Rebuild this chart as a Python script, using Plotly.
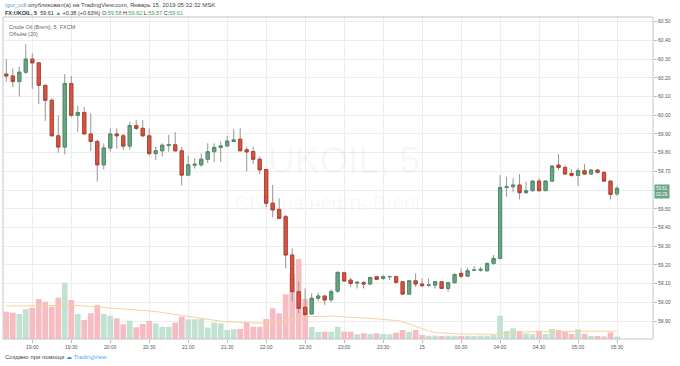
import plotly.graph_objects as go
import pandas as pd

# ---------------- data ----------------
times = (list(pd.date_range("2019-01-14 18:40", "2019-01-15 00:55", freq="5min").strftime("%H:%M"))
         + list(pd.date_range("2019-01-15 04:00", "2019-01-15 05:30", freq="5min").strftime("%H:%M")))

open_ = [60.22, 60.21, 60.18, 60.23, 60.30, 60.28, 60.16, 60.08, 59.89, 59.83,
         60.17, 60.00, 60.015, 59.90, 59.86, 59.735, 59.825, 59.90, 59.89, 59.835,
         59.945, 59.93, 59.89, 59.795, 59.81, 59.838, 59.842, 59.81, 59.68, 59.733,
         59.735, 59.765, 59.805, 59.828, 59.836, 59.86, 59.872, 59.815, 59.806, 59.765,
         59.71, 59.53, 59.497, 59.458, 59.253, 59.057, 58.974, 58.938, 59.022, 59.034,
         59.014, 59.06, 59.158, 59.119, 59.103, 59.105, 59.098, 59.137, 59.128, 59.137,
         59.137, 59.11, 59.044, 59.115, 59.098, 59.092, 59.092, 59.11, 59.074, 59.105,
         59.155, 59.14, 59.171, 59.172, 59.169, 59.208, 59.235, 59.614, 59.618, 59.627,
         59.586, 59.597, 59.648, 59.597, 59.648, 59.734, 59.721, 59.689, 59.679, 59.704,
         59.686, 59.707, 59.695, 59.648, 59.58]
high = [60.30, 60.25, 60.26, 60.38, 60.33, 60.28, 60.16, 60.09, 60.00, 60.22,
        60.21, 60.05, 60.045, 60.01, 59.87, 59.85, 59.93, 59.93, 59.90, 59.965,
        59.975, 59.975, 59.93, 59.83, 59.85, 59.895, 59.91, 59.83, 59.785, 59.77,
        59.795, 59.85, 59.85, 59.86, 59.89, 59.925, 59.93, 59.832, 59.832, 59.78,
        59.71, 59.628, 59.556, 59.467, 59.289, 59.111, 59.075, 59.048, 59.052, 59.034,
        59.07, 59.167, 59.164, 59.131, 59.114, 59.114, 59.137, 59.14, 59.146, 59.142,
        59.142, 59.114, 59.119, 59.155, 59.128, 59.128, 59.114, 59.114, 59.11, 59.155,
        59.181, 59.185, 59.194, 59.19, 59.212, 59.253, 59.68, 59.671, 59.663, 59.686,
        59.645, 59.654, 59.663, 59.654, 59.734, 59.793, 59.734, 59.711, 59.716, 59.739,
        59.711, 59.711, 59.698, 59.65, 59.62]
low = [60.18, 60.15, 60.10, 60.22, 60.14, 60.06, 59.97, 59.89, 59.80, 59.79,
       59.99, 59.91, 59.90, 59.81, 59.645, 59.71, 59.805, 59.82, 59.815, 59.815,
       59.92, 59.885, 59.785, 59.76, 59.78, 59.805, 59.805, 59.625, 59.68, 59.715,
       59.725, 59.745, 59.75, 59.75, 59.83, 59.858, 59.81, 59.70, 59.74, 59.686,
       59.508, 59.455, 59.449, 59.182, 59.004, 58.941, 58.924, 58.933, 59.004, 58.986,
       59.00, 59.05, 59.11, 59.083, 59.074, 59.074, 59.092, 59.119, 59.119, 59.119,
       59.101, 59.039, 59.044, 59.083, 59.083, 59.083, 59.074, 59.071, 59.057, 59.101,
       59.131, 59.137, 59.167, 59.164, 59.165, 59.199, 59.23, 59.565, 59.591, 59.55,
       59.582, 59.591, 59.591, 59.595, 59.645, 59.707, 59.68, 59.671, 59.622, 59.68,
       59.684, 59.689, 59.645, 59.55, 59.57]
close = [60.21, 60.18, 60.23, 60.30, 60.28, 60.16, 60.08, 59.89, 59.83, 60.17,
         60.00, 60.015, 59.90, 59.86, 59.735, 59.825, 59.90, 59.89, 59.835, 59.945,
         59.93, 59.89, 59.795, 59.81, 59.84, 59.842, 59.81, 59.68, 59.735, 59.738,
         59.765, 59.805, 59.828, 59.836, 59.862, 59.868, 59.81, 59.804, 59.765, 59.708,
         59.53, 59.494, 59.449, 59.253, 59.057, 58.968, 58.935, 59.022, 59.034, 59.013,
         59.057, 59.16, 59.114, 59.101, 59.107, 59.098, 59.133, 59.123, 59.137, 59.138,
         59.107, 59.044, 59.115, 59.098, 59.089, 59.093, 59.11, 59.074, 59.105, 59.149,
         59.14, 59.169, 59.172, 59.176, 59.208, 59.235, 59.614, 59.618, 59.627, 59.586,
         59.597, 59.648, 59.597, 59.648, 59.728, 59.721, 59.686, 59.679, 59.704, 59.686,
         59.707, 59.695, 59.648, 59.577, 59.61]
volume = [273, 263, 250, 300, 313, 400, 373, 323, 413, 563,
          390, 250, 190, 257, 340, 250, 233, 207, 147, 183,
          117, 150, 180, 157, 123, 123, 163, 223, 197, 197,
          200, 113, 163, 157, 90, 97, 100, 163, 123, 123,
          200, 307, 257, 447, 650, 800, 400, 120, 70, 73,
          73, 123, 73, 73, 47, 57, 50, 57, 50, 47,
          63, 90, 73, 90, 40, 33, 33, 30, 33, 33,
          30, 33, 30, 33, 33, 40, 233, 80, 107, 80,
          57, 47, 83, 50, 100, 90, 73, 50, 97, 53,
          30, 30, 25, 67, 25]
volume_ma = [330, 330, 330, 330, 330, 330, 330, 335, 335, 340,
             340, 335, 330, 325, 320, 317, 315, 310, 305, 300,
             295, 290, 283, 275, 265, 255, 245, 235, 225, 215,
             205, 195, 185, 178, 173, 170, 165, 160, 157, 158,
             162, 167, 175, 183, 195, 210, 223, 225, 227, 230,
             228, 225, 223, 220, 215, 210, 207, 203, 200, 195,
             185, 173, 150, 125, 100, 80, 65, 60, 55, 52,
             50, 50, 48, 47, 47, 47, 57, 62, 68, 70,
             72, 73, 73, 74, 75, 76, 77, 78, 79, 80,
             80, 80, 80, 80, 80]

tick_vals = ["19:00", "19:30", "20:00", "20:30", "21:00", "21:30", "22:00", "22:30",
             "23:00", "23:30", "00:00", "00:30", "04:00", "04:30", "05:00", "05:30"]
tick_text = ["19:00", "19:30", "20:00", "20:30", "21:00", "21:30", "22:00", "22:30",
             "23:00", "23:30", "15", "00:30", "04:00", "04:30", "05:00", "05:30"]
price_ticks = [58.9, 59.0, 59.1, 59.2, 59.3, 59.4, 59.5, 59.6, 59.7, 59.8, 59.9,
               60.0, 60.1, 60.2, 60.3, 60.4, 60.5]
last_price = "59.61"
countdown = "02:29"

# ---------------- geometry (pixels of the 680x366 page) ----------------
W, H = 680, 366
PX0, PX1 = 3, 653      # plot left / right
PY0, PY1 = 17, 339     # plot top / bottom
PPU = 187.1            # pixels per 1.00 of price
P_REF_Y, P_REF = 21.7, 60.50


def fx(x):
    return x / W


def fy(y):
    return 1 - y / H


y_top = P_REF - (PY0 - P_REF_Y) / PPU
y_bot = P_REF - (PY1 - P_REF_Y) / PPU
slot = 6.497
x_first = 6.3
x_lo = (PX0 - x_first) / slot
x_hi = (PX1 - x_first) / slot

UP, DOWN = "#6ba583", "#d75442"
UP_VOL, DOWN_VOL = "#c2e2d1", "#f6bcc1"
FONT = "Liberation Sans, Arial, sans-serif"

vol_colors = [UP_VOL if c >= o else DOWN_VOL for o, c in zip(open_, close)]
body_hi = [max(o, c) for o, c in zip(open_, close)]
body_lo = [min(o, c) for o, c in zip(open_, close)]
# the last-price box covers the 59.60 axis label, as in the reference
price_tick_text = ["" if abs(v - 59.6) < 1e-9 else f"{v:.2f}" for v in price_ticks]

fig = go.Figure()
fig.add_trace(go.Bar(x=times, y=volume, marker=dict(color=vol_colors, line=dict(width=0)),
                     yaxis="y", xaxis="x", hoverinfo="skip", showlegend=False))
fig.add_trace(go.Scatter(x=times, y=volume_ma, mode="lines",
                         line=dict(color="#f8d29a", width=1), yaxis="y",
                         hoverinfo="skip", showlegend=False))
# wicks
fig.add_trace(go.Candlestick(x=times, open=open_, high=high, low=low, close=close,
                             increasing=dict(line=dict(color="#959595", width=1), fillcolor="#959595"),
                             decreasing=dict(line=dict(color="#959595", width=1), fillcolor="#959595"),
                             whiskerwidth=0, yaxis="y2", showlegend=False, hoverinfo="skip"))
# bodies
fig.add_trace(go.Candlestick(x=times, open=open_, high=body_hi, low=body_lo, close=close,
                             increasing=dict(line=dict(color="#4f8f69", width=1), fillcolor=UP),
                             decreasing=dict(line=dict(color="#b8402f", width=1), fillcolor=DOWN),
                             whiskerwidth=0, yaxis="y2", showlegend=False, hoverinfo="skip"))

annotations = []
# header
annotations.append(dict(
    x=fx(3), y=fy(5), xref="paper", yref="paper", xanchor="left", yanchor="middle", showarrow=False,
    text="<span style='color:#5b9cd6'>igor_odl</span> опубликовал(а) на TradingView.com, Январь 15, 2019 05:32:32 MSK",
    font=dict(family=FONT, size=6, color="#444")))
annotations.append(dict(
    x=fx(3), y=fy(13.5), xref="paper", yref="paper", xanchor="left", yanchor="middle", showarrow=False,
    text=("<b>FX:UKOIL, 5</b>  59.61 <span style='color:#3ca35c'>▲</span> +0.38 (+0.63%) "
          "O:<span style='color:#3ca35c'>59.58</span> H:<span style='color:#3ca35c'>59.62</span> "
          "L:<span style='color:#3ca35c'>59.57</span> C:<span style='color:#3ca35c'>59.61</span>"),
    font=dict(family=FONT, size=5.5, color="#333")))
# legend in plot
annotations.append(dict(x=fx(7), y=fy(26.5), xref="paper", yref="paper", xanchor="left", yanchor="middle",
                        showarrow=False, text="Crude Oil (Brent), 5, FXCM",
                        font=dict(family=FONT, size=5.5, color="#666")))
annotations.append(dict(x=fx(7), y=fy(33.5), xref="paper", yref="paper", xanchor="left", yanchor="middle",
                        showarrow=False, text="Объём (20)",
                        font=dict(family=FONT, size=5.5, color="#666")))
# watermark
annotations.append(dict(x=fx(344), y=fy(160), xref="paper", yref="paper", xanchor="center", yanchor="middle",
                        showarrow=False, text="UKOIL, 5",
                        font=dict(family=FONT, size=37, color="rgba(0,0,0,0.045)")))
annotations.append(dict(x=fx(328), y=fy(203), xref="paper", yref="paper", xanchor="center", yanchor="middle",
                        showarrow=False, text="CFD на нефть Brent",
                        font=dict(family=FONT, size=20, color="rgba(0,0,0,0.045)")))
# last price label
annotations.append(dict(x=fx(654), y=fy(191.5), xref="paper", yref="paper", xanchor="left", yanchor="middle",
                        showarrow=False, text=f"{last_price}<br>{countdown}", bgcolor=UP, borderpad=1,
                        font=dict(family=FONT, size=4.5, color="#ffffff")))
# footer
annotations.append(dict(
    x=fx(3), y=fy(357), xref="paper", yref="paper", xanchor="left", yanchor="middle", showarrow=False,
    text="Создано при помощи <span style='color:#2f8de4'>☁</span> <span style='color:#5aa8ea'>TradingView</span>",
    font=dict(family=FONT, size=6, color="#444")))

shapes = [dict(type="rect", xref="paper", yref="paper", x0=fx(PX0), x1=fx(PX1), y0=fy(PY1), y1=fy(PY0),
               line=dict(color="#c4c4c4", width=1), fillcolor="rgba(0,0,0,0)", layer="above")]

fig.update_layout(
    width=W, height=H, autosize=False,
    margin=dict(l=0, r=0, t=0, b=0),
    paper_bgcolor="white", plot_bgcolor="white",
    bargap=0.12, showlegend=False,
    font=dict(family=FONT, size=5, color="#555"),
    xaxis=dict(type="category", categoryorder="array", categoryarray=times,
               domain=[fx(PX0), fx(PX1)], range=[x_lo, x_hi], anchor="y",
               tickmode="array", tickvals=tick_vals, ticktext=tick_text,
               showgrid=True, gridcolor="#ededed", gridwidth=1,
               ticks="outside", ticklen=3, tickcolor="#bbbbbb",
               tickfont=dict(family=FONT, size=5, color="#555"),
               showline=False, zeroline=False, rangeslider=dict(visible=False), fixedrange=True),
    yaxis=dict(domain=[fy(PY1), fy(PY0)], range=[0, (PY1 - PY0) * 10], visible=False,
               showgrid=False, zeroline=False, fixedrange=True),
    yaxis2=dict(overlaying="y", side="right", anchor="x", range=[y_bot, y_top],
                tickmode="array", tickvals=price_ticks, ticktext=price_tick_text,
                showgrid=True, gridcolor="#ededed", gridwidth=1,
                ticks="outside", ticklen=3, tickcolor="#bbbbbb",
                tickfont=dict(family=FONT, size=5, color="#555"),
                showline=False, zeroline=False, fixedrange=True),
    annotations=annotations, shapes=shapes,
)

fig.write_html("out.html", include_plotlyjs=True, full_html=True,
               config={"displayModeBar": False, "staticPlot": True},
               post_script="document.body.style.margin='0';document.body.style.overflow='hidden';")
